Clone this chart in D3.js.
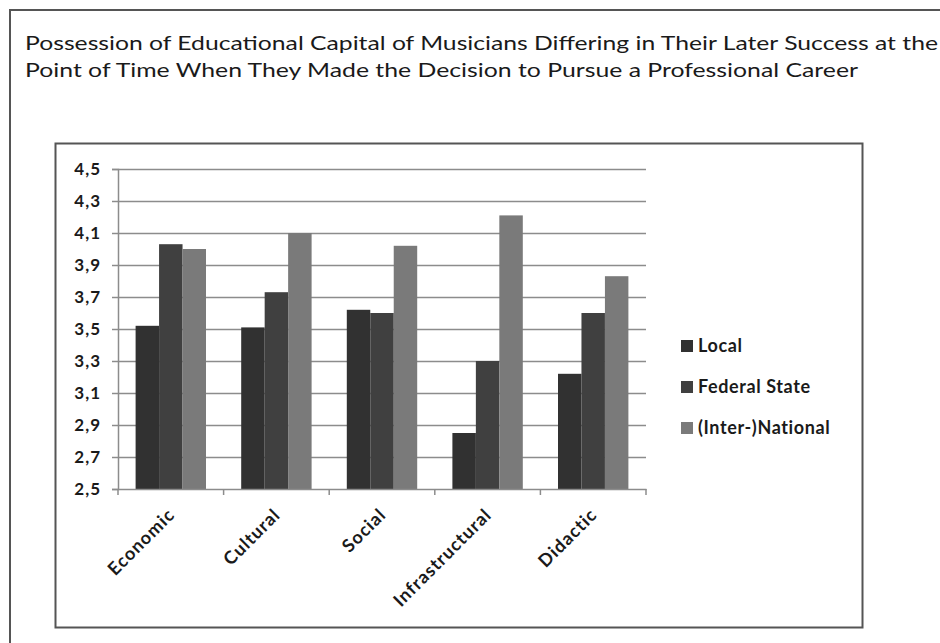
<!DOCTYPE html>
<html>
<head>
<meta charset="utf-8">
<script src="https://cdn.jsdelivr.net/npm/d3@7"></script>
<style>
  html, body { margin: 0; padding: 0; background: #fff; }
  svg { display: block; }
  text { font-family: Lato, "Open Sans", "DejaVu Sans", sans-serif; fill: #1a1a1a; }
</style>
</head>
<body>
<svg id="chart" width="940" height="643"></svg>
<script>
// Categories of educational capital
const categories = ["Economic", "Cultural", "Social", "Infrastructural", "Didactic"];
// Series: level of later success
const seriesNames = ["Local", "Federal State", "(Inter-)National"];
const localValues = [3.52, 3.51, 3.62, 2.85, 3.22];
const federalValues = [4.03, 3.73, 3.60, 3.30, 3.60];
const nationalValues = [4.00, 4.10, 4.02, 4.21, 3.83];
// Y axis ticks
const yTicks = [2.5, 2.7, 2.9, 3.1, 3.3, 3.5, 3.7, 3.9, 4.1, 4.3, 4.5];
const titleLines = [
  "Possession of Educational Capital of Musicians Differing in Their Later Success at the",
  "Point of Time When They Made the Decision to Pursue a Professional Career"
];

const seriesValues = [localValues, federalValues, nationalValues];
const colors = ["#313131", "#404040", "#7a7a7a"];
const gridColor = "#8c8c8c";

const svg = d3.select("#chart");

// Outer figure frame
svg.append("rect")
  .attr("x", 10).attr("y", 10).attr("width", 960).attr("height", 660)
  .attr("fill", "none").attr("stroke", "#555").attr("stroke-width", 2);

// Title
const title = svg.append("g");
const titleWidths = [913, 833];
titleLines.forEach((t, i) => {
  title.append("text")
    .attr("x", 25).attr("y", 50 + i * 27)
    .attr("font-size", 20)
    .attr("textLength", titleWidths[i])
    .attr("lengthAdjust", "spacingAndGlyphs")
    .text(t);
});

// Chart frame
svg.append("rect")
  .attr("x", 55.5).attr("y", 143.5).attr("width", 807).attr("height", 484)
  .attr("fill", "#fff").attr("stroke", "#555").attr("stroke-width", 2);

const plot = { left: 118, right: 646, top: 169, bottom: 489 };

const x = d3.scaleBand()
  .domain(categories)
  .range([plot.left, plot.right])
  .paddingInner(0)
  .paddingOuter(0);

const xInner = d3.scaleBand()
  .domain(d3.range(seriesNames.length))
  .range([0, x.bandwidth()])
  .paddingInner(0)
  .paddingOuter(0.75);

const y = d3.scaleLinear()
  .domain([2.5, 4.5])
  .range([plot.bottom, plot.top]);

// Gridlines
svg.append("g")
  .selectAll("line")
  .data(yTicks.slice(1))
  .join("line")
  .attr("x1", plot.left).attr("x2", plot.right)
  .attr("y1", d => Math.round(y(d)) + 0.5).attr("y2", d => Math.round(y(d)) + 0.5)
  .attr("stroke", gridColor).attr("stroke-width", 1.5);

// Bars
const groups = svg.append("g")
  .selectAll("g")
  .data(categories)
  .join("g")
  .attr("transform", d => `translate(${x(d)},0)`);

groups.selectAll("rect")
  .data((c, ci) => seriesValues.map((vals, si) => ({ si, v: vals[ci] })))
  .join("rect")
  .attr("x", d => xInner(d.si))
  .attr("width", xInner.bandwidth())
  .attr("y", d => y(d.v))
  .attr("height", d => y(2.5) - y(d.v))
  .attr("fill", d => colors[d.si]);

// Y axis
const yAxis = d3.axisLeft(y)
  .tickValues(yTicks)
  .tickSize(6)
  .tickFormat(d => d3.format(".1f")(d).replace(".", ","));

const yg = svg.append("g")
  .attr("transform", `translate(${plot.left},0)`)
  .call(yAxis);
yg.select(".domain").attr("stroke", gridColor).attr("stroke-width", 1.5);
yg.selectAll(".tick line").attr("stroke", gridColor).attr("stroke-width", 1.5);
yg.selectAll(".tick text")
  .attr("x", -17)
  .attr("font-size", 17)
  .attr("font-weight", "bold")
  .attr("letter-spacing", 1)
  .attr("fill", "#222")
  .style("font-family", "Lato, 'Open Sans', sans-serif");

// X axis
const xAxis = d3.axisBottom(x).tickSize(0).tickFormat("");
const xg = svg.append("g")
  .attr("transform", `translate(0,${plot.bottom})`)
  .call(xAxis);
xg.select(".domain").attr("stroke", gridColor).attr("stroke-width", 1.5);
xg.selectAll(".tick").remove();

// Category boundary tick marks
const boundaries = categories.map(c => x(c)).concat([plot.right]);
xg.selectAll("line.bound")
  .data(boundaries)
  .join("line")
  .attr("class", "bound")
  .attr("x1", d => d).attr("x2", d => d)
  .attr("y1", 0).attr("y2", 6)
  .attr("stroke", gridColor).attr("stroke-width", 1.5);

// Rotated category labels
xg.selectAll("text.cat")
  .data(categories)
  .join("text")
  .attr("class", "cat")
  .attr("font-size", 18)
  .attr("font-weight", "bold")
  .attr("letter-spacing", 1)
  .attr("fill", "#222")
  .attr("text-anchor", "end")
  .attr("transform", d => `translate(${x(d) + x.bandwidth() / 2 + 5},${27}) rotate(-45)`)
  .text(d => d);

// Legend
const legend = svg.append("g")
  .selectAll("g")
  .data(seriesNames)
  .join("g")
  .attr("transform", (d, i) => `translate(681,${340 + i * 41})`);
legend.append("rect")
  .attr("width", 12).attr("height", 12)
  .attr("fill", (d, i) => colors[i]);
legend.append("text")
  .attr("x", 17).attr("y", 12)
  .attr("font-size", 18)
  .attr("font-weight", "bold")
  .attr("letter-spacing", 0.6)
  .attr("fill", "#222")
  .text(d => d);
</script>
</body>
</html>
